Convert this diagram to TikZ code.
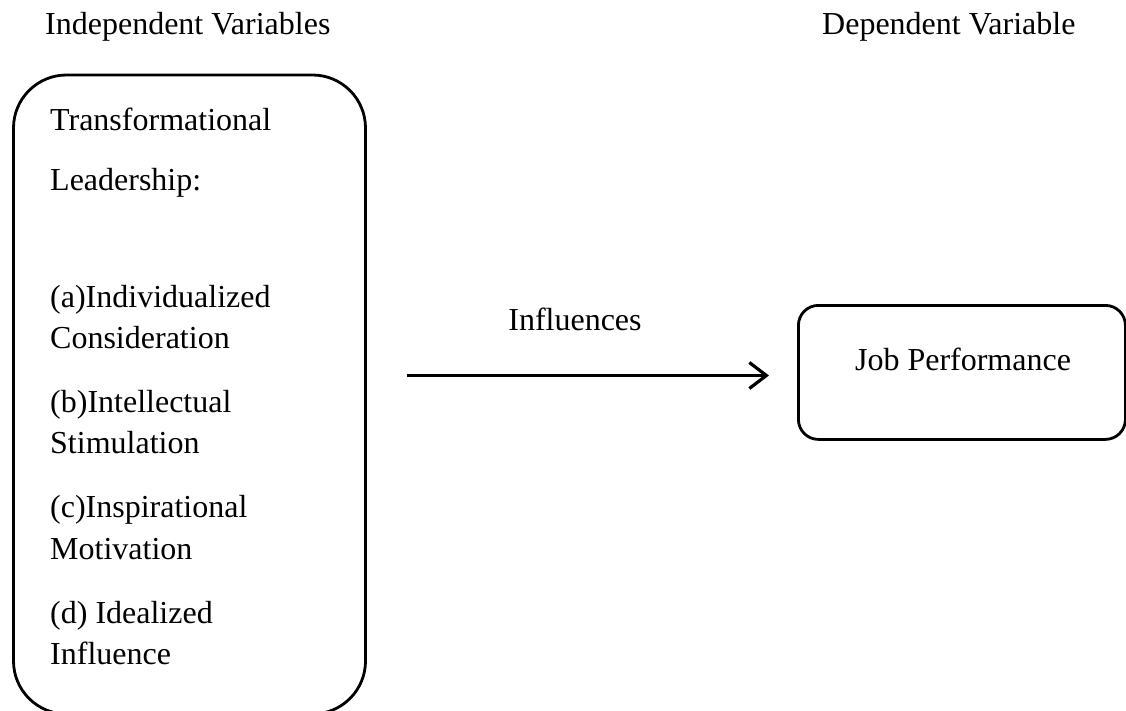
\documentclass[tikz,border=0pt]{standalone}
\usepackage{fontspec}
\setmainfont{Liberation Serif}
\usetikzlibrary{arrows.meta}
\begin{document}
\begin{tikzpicture}[x=1pt,y=-1pt,
  txt/.style={inner sep=0pt, font=\fontsize{32}{38}\selectfont},
  ltxt/.style={txt, anchor=base west},
  boxline/.style={draw=black, line width=2.8pt},
  arr/.style={line width=3pt, -{Straight Barb[length=17pt,width=26pt,line width=3.2pt]}}]
\useasboundingbox (0,0) rectangle (1126,711);
% headings
\node[ltxt] (indep) at (45,35) {Independent Variables};
\node[ltxt] (dep) at (822,35) {Dependent Variable};
% left box
\begin{scope}
\clip (0,0) rectangle (1126,711);
\draw[boxline, rounded corners=53pt] (13.5,75) rectangle (365.5,714);
\end{scope}
\node[inner sep=0pt, minimum width=352pt, minimum height=639pt, anchor=north west] (ivbox) at (13.5,75) {};
\node[ltxt] (t1) at (50,131) {Transformational};
\node[ltxt] (t2) at (50,191) {Leadership:};
\node[ltxt] (a1) at (50,307) {(a)Individualized};
\node[ltxt] (a2) at (50,348) {Consideration};
\node[ltxt] (b1) at (50,412) {(b)Intellectual};
\node[ltxt] (b2) at (50,453) {Stimulation};
\node[ltxt] (c1) at (50,517) {(c)Inspirational};
\node[ltxt] (c2) at (50,559) {Motivation};
\node[ltxt] (d1) at (50,623) {(d) Idealized};
\node[ltxt] (d2) at (50,664) {Influence};
% right box
\node[boxline, rounded corners=20pt, minimum width=327pt, minimum height=134pt, anchor=north west] (jpbox) at (797,304) {};
\node[txt, anchor=base] (jp) at (963,370) {Job Performance};
% arrow
\coordinate (arrS) at (406.5,375.5);
\coordinate (arrE) at (769,375.5);
\node[txt, anchor=base] (infl) at (575,330) {Influences};
\draw[arr] (arrS) -- (arrE);
\end{tikzpicture}
\end{document}
